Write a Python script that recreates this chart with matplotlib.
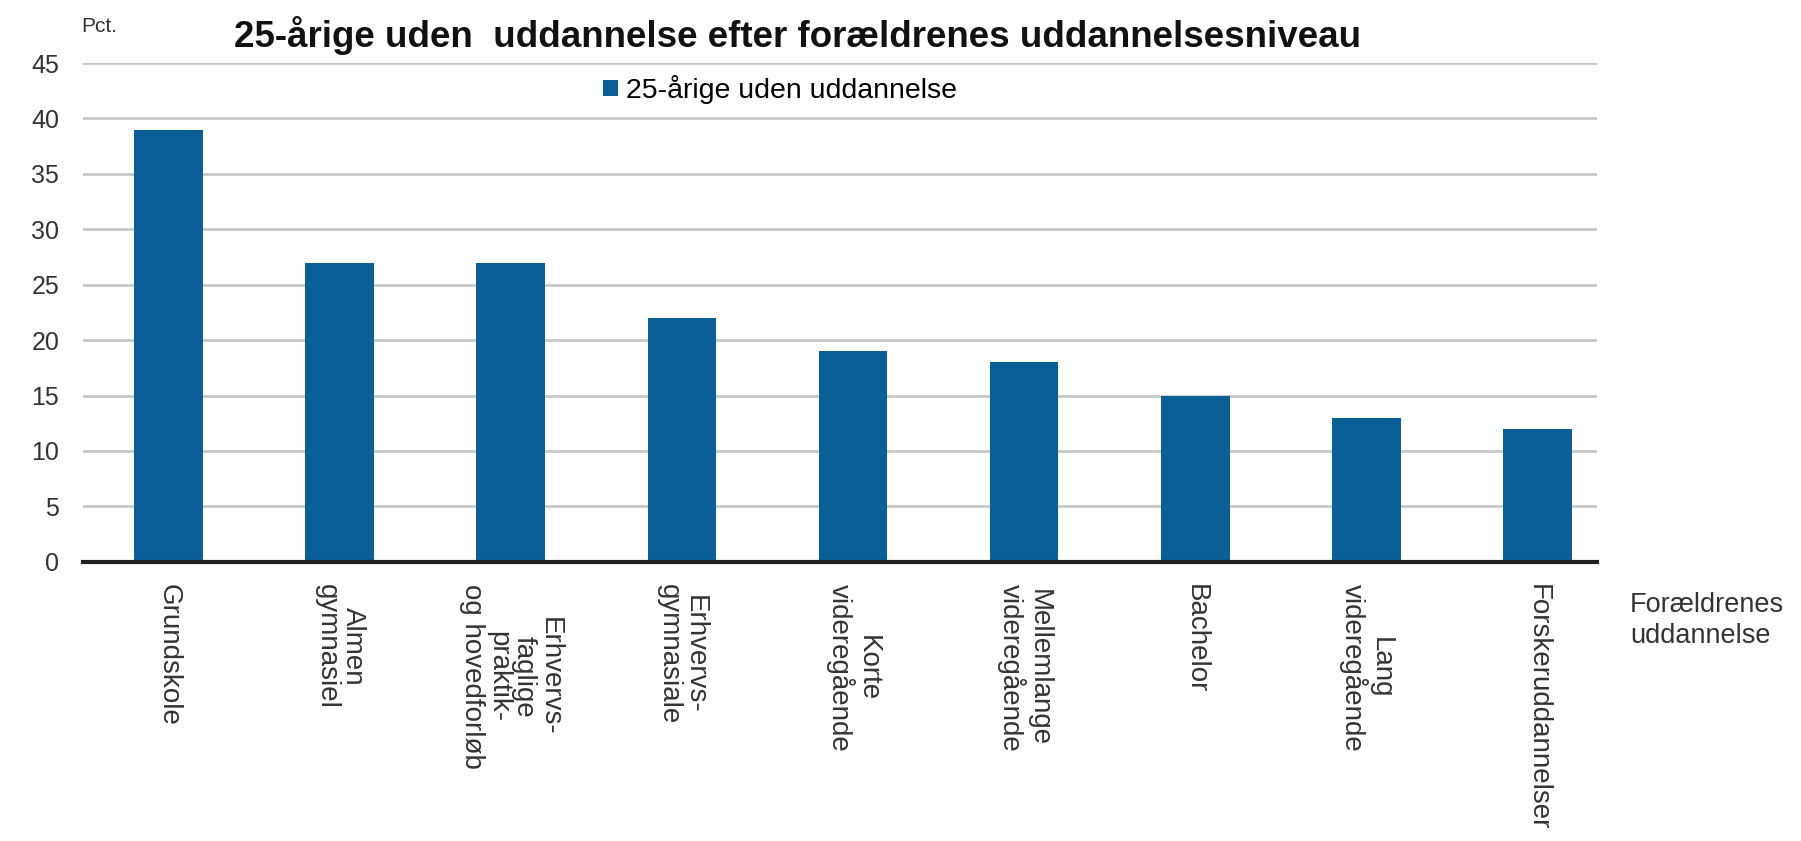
import matplotlib
matplotlib.use('Agg')
import matplotlib.pyplot as plt

# data
categories = [
    'Grundskole',
    'Almen\ngymnasiel',
    'Erhvervs-\nfaglige\npraktik-\nog hovedforløb',
    'Erhvervs-\ngymnasiale',
    'Korte\nvideregående',
    'Mellemlange\nvideregående',
    'Bachelor',
    'Lang\nvideregående',
    'Forskeruddannelser',
]
values = [39, 27, 27, 22, 19, 18, 15, 13, 12]
yticks = [0, 5, 10, 15, 20, 25, 30, 35, 40, 45]

title = '25-årige uden  uddannelse efter forældrenes uddannelsesniveau'
series_name = '25-årige uden uddannelse'
x_title = 'Forældrenes\nuddannelse'

bar_color = '#0b5f97'
regular = ['Liberation Sans', 'DejaVu Sans']

fig = plt.figure(figsize=(18.01, 8.41), dpi=100)
ax = fig.add_axes([0.046, 0.332, 0.841, 0.593])

x = list(range(len(categories)))
ax.bar(x, values, width=0.4, color=bar_color, zorder=3, label=series_name)

ax.set_xlim(-0.5, 8.35)
ax.set_ylim(0, 45)
ax.set_yticks(yticks)
ax.set_yticklabels([str(v) for v in yticks], family=regular, fontsize=18)
ax.set_xticks(x)
ax.set_xticklabels(categories, rotation=270, ha='center', va='top',
                   multialignment='center', linespacing=1.0,
                   family=regular, fontsize=20, color='#333333')
ax.tick_params(axis='both', length=0)
ax.tick_params(axis='x', pad=16)
ax.tick_params(axis='y', pad=17, colors='#333333')

ax.grid(axis='y', color='#c8c8c8', linewidth=2, zorder=0)
for s in ['left', 'right', 'top']:
    ax.spines[s].set_visible(False)
ax.spines['bottom'].set_color('#222222')
ax.spines['bottom'].set_linewidth(3)
ax.spines['bottom'].set_zorder(4)

fig.text(0.443, 0.958, title, ha='center', va='center', family=regular,
         fontweight='bold', fontsize=26.5, color='#111111')
fig.text(0.045, 0.968, 'Pct.', ha='left', va='center', family=regular,
         fontsize=15, color='#333333')
fig.text(0.905, 0.262, x_title, ha='left', va='center', family=regular,
         fontsize=19.5, linespacing=1.25, color='#333333')

fig.legend(loc='center left', bbox_to_anchor=(0.335, 0.893), frameon=False,
           prop={'family': regular, 'size': 20.5}, handlelength=0.5,
           handleheight=0.5, handletextpad=0.3, borderpad=0, borderaxespad=0)

fig.savefig('out.png', dpi=100)
